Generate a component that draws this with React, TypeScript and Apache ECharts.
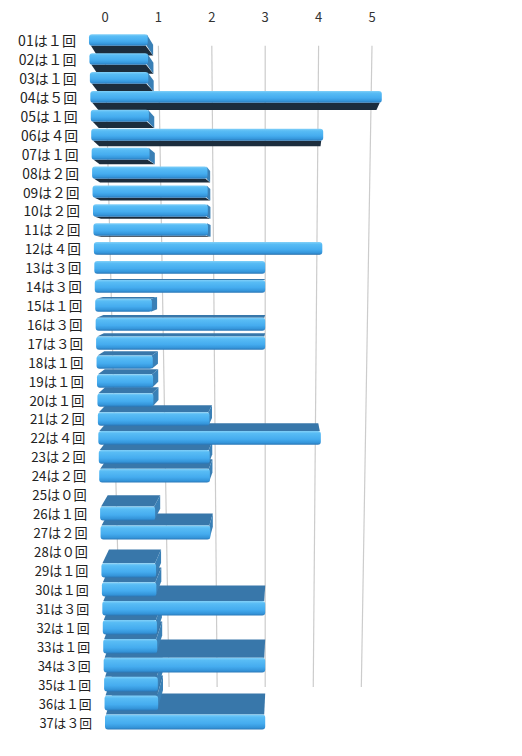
import { useEffect, useRef } from "react";
import * as echarts from "echarts";

const categories = [
  "01は１回", "02は１回", "03は１回", "04は５回", "05は１回", "06は４回", "07は１回",
  "08は２回", "09は２回", "10は２回", "11は２回", "12は４回", "13は３回", "14は３回",
  "15は１回", "16は３回", "17は３回", "18は１回", "19は１回", "20は１回", "21は２回",
  "22は４回", "23は２回", "24は２回", "25は０回", "26は１回", "27は２回", "28は０回",
  "29は１回", "30は１回", "31は３回", "32は１回", "33は１回", "34は３回", "35は１回",
  "36は１回", "37は３回",
];

const counts = [
  1, 1, 1, 5, 1, 4, 1, 2, 2, 2,
  2, 4, 3, 3, 1, 3, 3, 1, 1, 1,
  2, 4, 2, 2, 0, 1, 2, 0, 1, 1,
  3, 1, 1, 3, 1, 1, 3,
];

const gridValues = [0, 1, 2, 3, 4, 5];

// fake 3d: a vanishing point somewhere near value 3 / row 12
const VP_VALUE = 3;
const VP_ROW = 11.7;
const DEPTH = 0.954;
const FRONT_TOP = 1.1;
const FRONT_BOTTOM = 1.0;
const GRID_SHRINK = 0.9;
const FONT = '"Noto Sans CJK JP", "Noto Sans", sans-serif';

const frontFill = {
  type: "linear",
  x: 0, y: 0, x2: 0, y2: 1,
  colorStops: [
    { offset: 0, color: "#82d0f8" },
    { offset: 0.18, color: "#58bcf5" },
    { offset: 0.6, color: "#45acef" },
    { offset: 0.85, color: "#3596db" },
    { offset: 1, color: "#2a78b8" },
  ],
};

function rowY(api: any, r: number) {
  const a = api.coord([0, 0])[1];
  const b = api.coord([0, 1])[1];
  return a + (b - a) * r;
}

function renderBar(_params: any, api: any) {
  const v = api.value(0) as number;
  const i = api.value(1) as number;
  const t = i / (categories.length - 1);
  const s = FRONT_TOP + (FRONT_BOTTOM - FRONT_TOP) * t;
  const vx = api.coord([VP_VALUE, 0])[0];
  const vy = rowY(api, VP_ROW);
  const band = (api.size([0, 1]) as number[])[1];
  const h = band * (0.6 + 0.2 * t);
  const [ax0, cy] = api.coord([0, i]);
  const ax1 = api.coord([v, i])[0];
  const x0 = vx + (ax0 - vx) * s;
  const x1 = vx + (ax1 - vx) * s;
  const top = cy - h / 2;
  const bot = cy + h / 2;
  const back = (x: number, y: number) => [vx + (x - vx) * DEPTH, vy + (y - vy) * DEPTH];
  const order = i <= VP_ROW ? i : 100 - i;
  const children: any[] = [];

  if (v > 0) {
    if (bot < vy) {
      children.push({
        type: "polygon",
        z2: order * 5,
        shape: { points: [[x0 + 2, bot], [x1 - 2, bot], back(x1, bot), back(x0, bot)] },
        style: { fill: "#1c2d3d" },
      });
    }
    if (top > vy) {
      children.push({
        type: "polygon",
        z2: order * 5,
        shape: { points: [[x0 + 1, top], [x1 - 1, top], back(x1, top), back(x0, top)] },
        style: { fill: "#3877aa" },
      });
    }
    if (x1 < vx) {
      children.push({
        type: "polygon",
        z2: order * 5 + 1,
        shape: { points: [[x1 - 1, top], [x1 - 1, bot], back(x1, bot), back(x1, top)] },
        style: { fill: "#3a80b6" },
      });
    }
    children.push({
      type: "rect",
      z2: order * 5 + 2,
      shape: { x: x0, y: top, width: x1 - x0, height: h, r: 3 },
      style: { fill: frontFill },
    });
  }

  children.push({
    type: "text",
    z2: 1000,
    x: x0 - 13,
    y: cy,
    style: {
      text: categories[i],
      align: "right",
      verticalAlign: "middle",
      fill: "#222",
      fontSize: 12.8 * s,
      fontFamily: FONT,
    },
  });

  return { type: "group", children };
}

function renderGridLine(_params: any, api: any) {
  const v = api.value(0) as number;
  const vx = api.coord([VP_VALUE, 0])[0];
  const xt = api.coord([v, 0])[0];
  const xb = vx + (xt - vx) * GRID_SHRINK;
  return {
    type: "line",
    shape: { x1: xt, y1: rowY(api, 0.3), x2: xb, y2: rowY(api, 34.15) },
    style: { stroke: "#cccccc", lineWidth: 1.2 },
  };
}

export default function App() {
  const nodeRef = useRef<HTMLDivElement | null>(null);

  useEffect(() => {
    document.body.style.margin = "0";
    if (!nodeRef.current) return;
    const chart = echarts.init(nodeRef.current, undefined, { renderer: "svg" });
    chart.setOption({
      animation: false,
      backgroundColor: "#ffffff",
      grid: { left: 105, right: 150, top: 30.5, bottom: 24.5 },
      xAxis: {
        type: "value",
        position: "top",
        min: 0,
        max: 5,
        interval: 1,
        axisLabel: { color: "#333", fontSize: 13, margin: 8, fontFamily: FONT },
        axisLine: { show: false },
        axisTick: { show: false },
        splitLine: { show: false },
      },
      yAxis: {
        type: "category",
        data: categories,
        inverse: true,
        axisLabel: { show: false },
        axisLine: { show: false },
        axisTick: { show: false },
      },
      series: [
        {
          type: "custom",
          z: 1,
          clip: false,
          renderItem: renderGridLine,
          encode: { x: 0, y: 1 },
          data: gridValues.map((v) => [v, 0]),
        },
        {
          type: "custom",
          z: 2,
          clip: false,
          renderItem: renderBar,
          encode: { x: 0, y: 1 },
          data: counts.map((v, i) => [v, i]),
        },
      ],
    });
    return () => chart.dispose();
  }, []);

  return <div ref={nodeRef} style={{ width: 522, height: 756 }} />;
}
